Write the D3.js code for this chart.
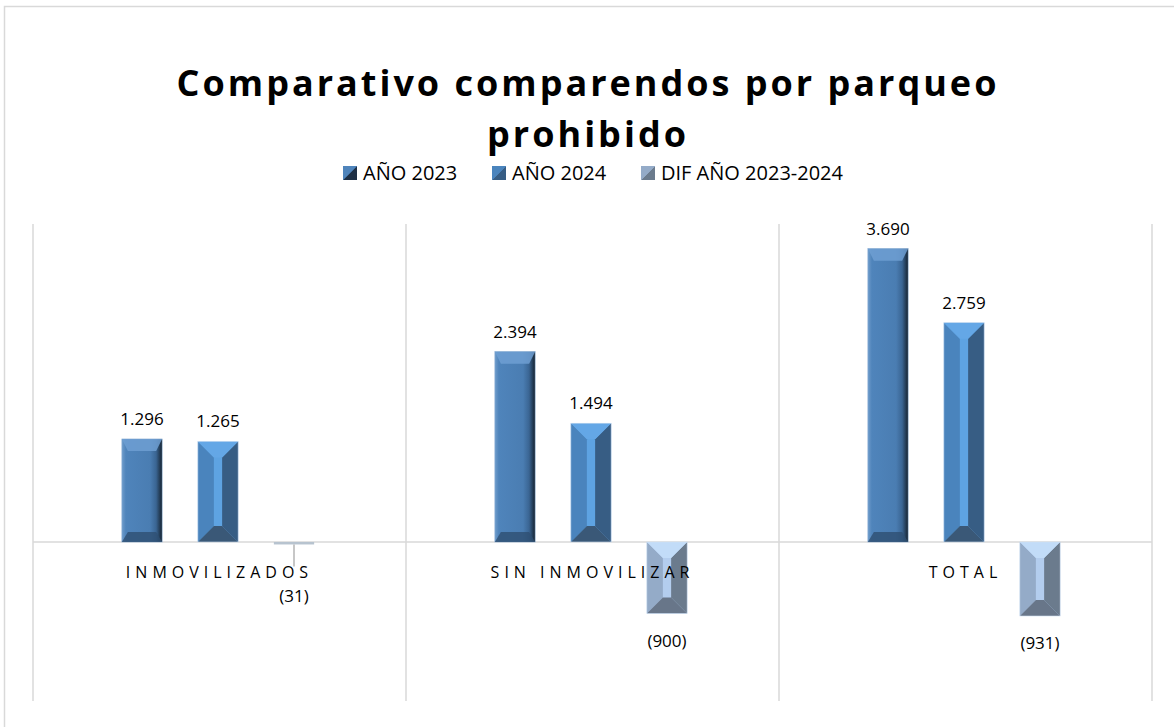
<!DOCTYPE html>
<html>
<head>
<meta charset="utf-8">
<script src="https://cdn.jsdelivr.net/npm/d3@7"></script>
<style>
  body { margin: 0; background: #fff; }
  svg { font-family: "Open Sans", "Noto Sans", sans-serif; }
</style>
</head>
<body>
<svg id="grafico"></svg>
<script>
// Dados do gráfico
var categorias = ['INMOVILIZADOS', 'SIN INMOVILIZAR', 'TOTAL'];
var series = ['AÑO 2023', 'AÑO 2024', 'DIF AÑO 2023-2024'];
var valores2023 = [1296, 2394, 3690];
var valores2024 = [1265, 1494, 2759];
var valoresDif = [-31, -900, -931];
var titulo = ['Comparativo comparendos por parqueo', 'prohibido'];

var largura = 1174, altura = 727;
var svg = d3.select('#grafico').attr('width', largura).attr('height', altura);

// Moldura do gráfico
svg.append('rect')
   .attr('x', 4.5).attr('y', 6.5)
   .attr('width', 1200).attr('height', 760)
   .attr('fill', '#fff').attr('stroke', '#d9d9d9').attr('stroke-width', 1.5);

// Área de plotagem
var area = { esquerda: 33, direita: 1152, superior: 224, inferior: 701 };

var x0 = d3.scaleBand().domain(categorias).range([area.esquerda, area.direita]).padding(0);
var x1 = d3.scaleBand().domain(series).range([71, 299]).paddingInner(0.47).paddingOuter(0.235);
var y = d3.scaleLinear().domain([-2000, 4000]).range([area.inferior, area.superior]);

// Linhas verticais de separação das categorias
var limites = categorias.map(function(c) { return x0(c); }).concat([area.direita]);
svg.append('g').selectAll('line').data(limites).enter().append('line')
   .attr('x1', d => d).attr('x2', d => d)
   .attr('y1', area.superior).attr('y2', area.inferior)
   .attr('stroke', '#d9d9d9').attr('stroke-width', 1.5);

// Linha do zero
svg.append('line')
   .attr('x1', area.esquerda).attr('x2', area.direita)
   .attr('y1', y(0)).attr('y2', y(0))
   .attr('stroke', '#d9d9d9').attr('stroke-width', 1.5);

// Gradientes
var defs = svg.append('defs');
var g1 = defs.append('linearGradient').attr('id', 'grad2023').attr('x1', 0).attr('x2', 1).attr('y1', 0).attr('y2', 0);
[[0, '#6f9ccb'], [0.1, '#4f84bb'], [0.7, '#4a7db2'], [0.85, '#3a6593'], [1, '#15222f']].forEach(function(s) {
  g1.append('stop').attr('offset', s[0]).attr('stop-color', s[1]);
});

// Paletas dos biséis: topo, esquerda, direita, base, centro
var paletas = {
  'AÑO 2024': { topo: '#64a7e6', esq: '#4a84bd', dir: '#375d84', base: '#3a5877', centro: '#5ea3e2' },
  'DIF AÑO 2023-2024': { topo: '#c2dcf8', esq: '#94abc8', dir: '#6b7b8d', base: '#687689', centro: '#b3cdee' }
};

var dados = [];
categorias.forEach(function(c, i) {
  dados.push({ cat: c, serie: series[0], valor: valores2023[i] });
  dados.push({ cat: c, serie: series[1], valor: valores2024[i] });
  dados.push({ cat: c, serie: series[2], valor: valoresDif[i] });
});

var barras = svg.append('g');
dados.forEach(function(d) {
  var bx = x0(d.cat) + x1(d.serie);
  var bw = x1.bandwidth();
  var yt = Math.min(y(d.valor), y(0));
  var yb = Math.max(y(d.valor), y(0));
  var bh = yb - yt;
  var g = barras.append('g');
  if (d.serie === series[0]) {
    g.append('rect').attr('x', bx).attr('y', yt).attr('width', bw).attr('height', bh)
     .attr('fill', 'url(#grad2023)').attr('stroke', '#8fb1d6').attr('stroke-width', 0.6);
    var e = 6;
    g.append('polygon').attr('points', [[bx, yt], [bx + bw, yt], [bx + bw - e, yt + 12], [bx + e, yt + 12]].join(' '))
     .attr('fill', '#6e9fd2').attr('opacity', 0.85);
    g.append('polygon').attr('points', [[bx, yb], [bx + bw, yb], [bx + bw - e, yb - 10], [bx + e, yb - 10]].join(' '))
     .attr('fill', '#2e4f72').attr('opacity', 0.8);
  } else {
    var p = paletas[d.serie];
    var ins = Math.min(16, bw / 2 - 4);
    var iv = Math.min(16, bh / 2);
    g.append('rect').attr('x', bx).attr('y', yt).attr('width', bw).attr('height', Math.max(bh, 1.5))
     .attr('fill', p.centro);
    if (bh > 4) {
      g.append('polygon').attr('points', [[bx, yt], [bx + ins, yt + iv], [bx + ins, yb - iv], [bx, yb]].join(' ')).attr('fill', p.esq);
      g.append('polygon').attr('points', [[bx + bw, yt], [bx + bw - ins, yt + iv], [bx + bw - ins, yb - iv], [bx + bw, yb]].join(' ')).attr('fill', p.dir);
      g.append('polygon').attr('points', [[bx, yt], [bx + bw, yt], [bx + bw - ins, yt + iv], [bx + ins, yt + iv]].join(' ')).attr('fill', p.topo);
      g.append('polygon').attr('points', [[bx, yb], [bx + bw, yb], [bx + bw - ins, yb - iv], [bx + ins, yb - iv]].join(' ')).attr('fill', p.base);
      g.append('rect').attr('x', bx).attr('y', yt).attr('width', bw).attr('height', bh)
       .attr('fill', 'none').attr('stroke', '#d0e0f2').attr('stroke-width', 0.6);
    } else {
      // barra muito pequena: só o traço e a aresta central
      g.select('rect').attr('fill', '#b7c3cf');
      g.append('line').attr('x1', bx + bw / 2).attr('x2', bx + bw / 2)
       .attr('y1', yb).attr('y2', yb + 22).attr('stroke', '#a9a9a9').attr('stroke-width', 1.3);
    }
  }
  // Rótulo do valor (negativos ficam abaixo do rótulo da categoria)
  var txt = d.valor < 0 ? '(' + d3.format(',')(-d.valor).replace(/,/g, '.') + ')'
                        : d3.format(',')(d.valor).replace(/,/g, '.');
  barras.append('text')
        .attr('x', bx + bw / 2)
        .attr('y', d.valor >= 0 ? yt - 14 : Math.max(yb + 33, y(0) + 60))
        .attr('text-anchor', 'middle')
        .attr('font-size', 17)
        .attr('fill', '#000')
        .text(txt);
});

// Rótulos das categorias
svg.append('g').selectAll('text').data(categorias).enter().append('text')
   .attr('x', d => x0(d) + x0.bandwidth() / 2)
   .attr('y', y(0) + 36)
   .attr('text-anchor', 'middle')
   .attr('font-size', 16)
   .attr('letter-spacing', 5)
   .attr('fill', '#000')
   .text(d => d);

// Título
svg.append('text')
   .attr('x', 588).attr('y', 96)
   .attr('text-anchor', 'middle')
   .attr('font-size', 36).attr('font-weight', 'bold').attr('letter-spacing', 3)
   .selectAll('tspan').data(titulo).enter().append('tspan')
   .attr('x', 588).attr('dy', (d, i) => i === 0 ? 0 : 51)
   .text(d => d);

// Legenda
var legX = [343, 492, 641];
var legenda = svg.append('g');
series.forEach(function(s, i) {
  var lx = legX[i], ly = 166, t = 14;
  var p = i === 0 ? { topo: '#6e9fd2', esq: '#4f84bb', dir: '#1d2f45', base: '#2e4f72', centro: '#4a7db2' } : paletas[s];
  legenda.append('rect').attr('x', lx).attr('y', ly).attr('width', t).attr('height', t).attr('fill', p.centro);
  legenda.append('polygon').attr('points', [[lx + t, ly], [lx + t, ly + t], [lx, ly + t]].join(' ')).attr('fill', p.dir);
  legenda.append('polygon').attr('points', [[lx, ly], [lx + t, ly], [lx, ly + t]].join(' ')).attr('fill', p.esq);
  legenda.append('text').attr('x', lx + 20).attr('y', ly + 14)
         .attr('font-size', 20).attr('fill', '#000').text(s);
});
</script>
</body>
</html>
